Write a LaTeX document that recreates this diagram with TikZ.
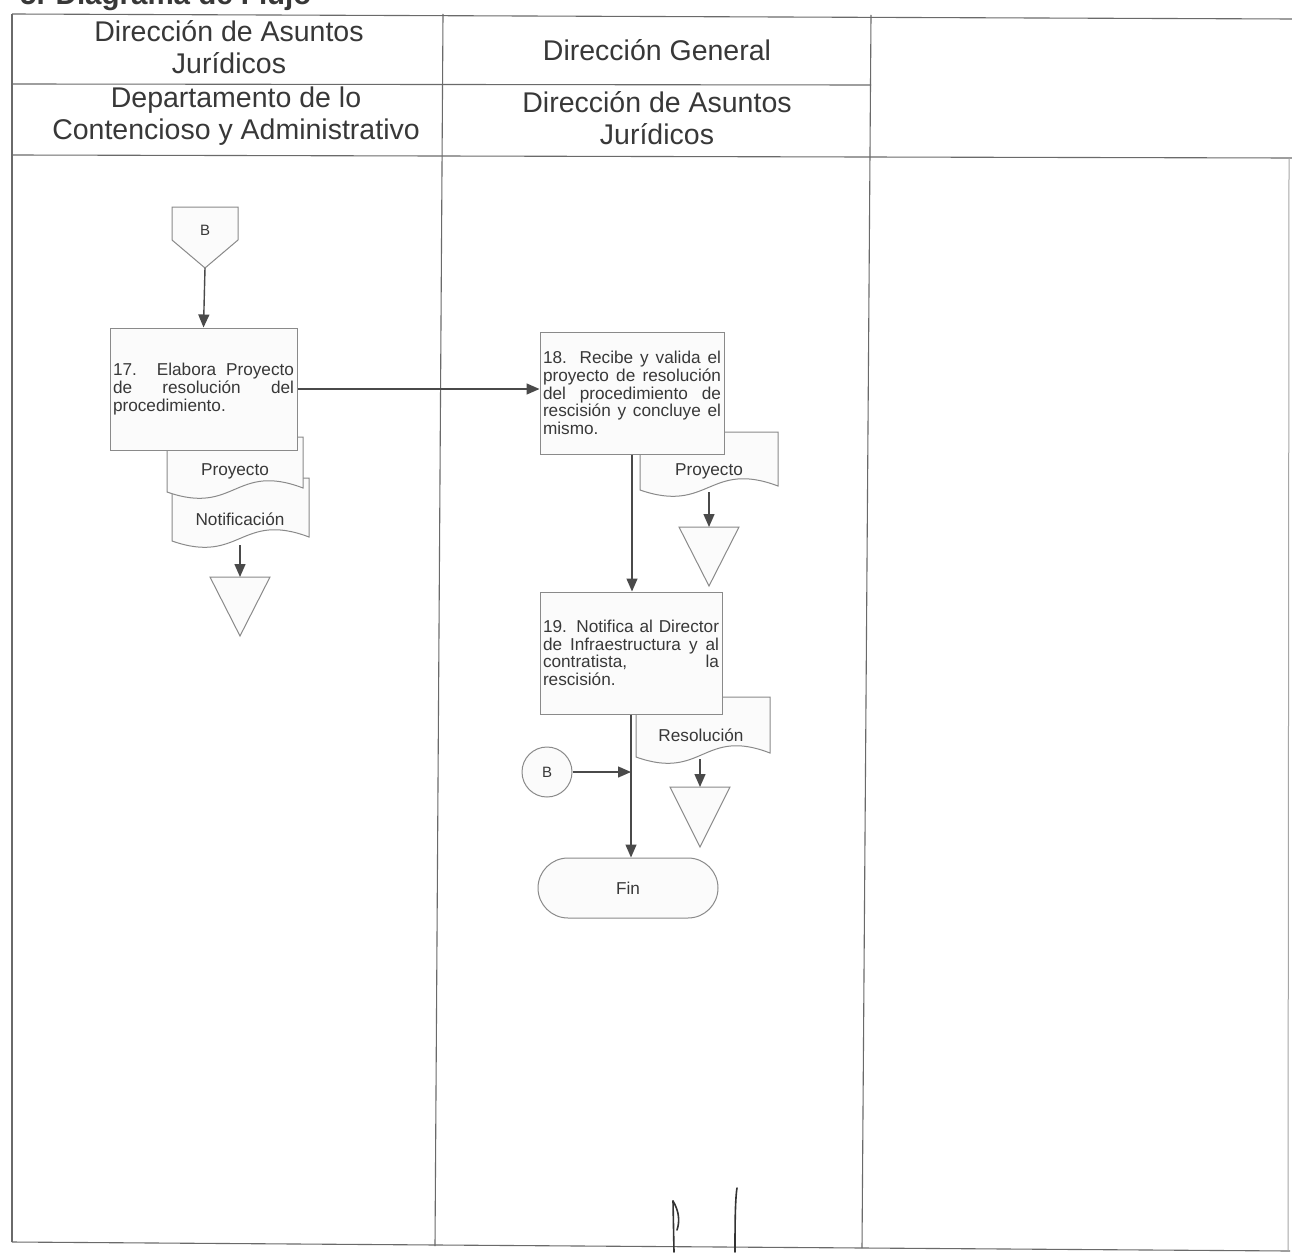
\documentclass[tikz,border=0pt]{standalone}
\usepackage{fontspec}
\setmainfont{Liberation Sans}
\usetikzlibrary{arrows.meta,shapes.misc}
\definecolor{tablec}{HTML}{6A6A6A}
\definecolor{shapec}{HTML}{8A8A8A}
\definecolor{arrc}{HTML}{4A4A4A}
\definecolor{txtc}{HTML}{383838}
\definecolor{boxfill}{HTML}{FBFBFB}
\newcommand\boxfont{\fontsize{17.2}{17.6}\selectfont\hyphenpenalty=10000\tolerance=10000}
\newcommand\headfont{\fontsize{28.5}{32.5}\selectfont}
\tikzset{
  tline/.style={draw=tablec, line width=1.1pt},
  conn/.style={draw=arrc, line width=1.4pt, -{Triangle[length=13pt,width=11pt]}},
  shp/.style={draw=shapec, fill=boxfill, line width=1pt},
  procbox/.style={shp, text=txtc, font=\boxfont, align=justify, inner sep=3pt, minimum height=122pt},
  doctext/.style={text=txtc, font=\boxfont, inner sep=0pt},
  headtext/.style={text=txtc, font=\headfont, align=center, inner sep=0pt},
  sig/.style={draw=black!80, line width=1.6pt, line cap=round}
}
\newcommand\docshape[4]{% x0 x1 ytop yleft
  \path[shp] (#1,#3) -- (#2,#3) -- (#2,#4-4)
    .. controls ({(#1+#2)/2},#4-30) and ({(#1+#2)/2},#4+24) .. (#1,#4) -- cycle;}
\begin{document}
\begin{tikzpicture}[x=1pt,y=-1pt]
\useasboundingbox (0,0) rectangle (1292,1252);
\clip (0,0) rectangle (1292,1252);
\fill[white] (0,0) rectangle (1292,1252);

% title (cut at the top edge, as in the scan)
\node[anchor=base west, font=\fontsize{29.5}{31}\selectfont\bfseries, text=txtc, inner sep=0pt] (title) at (20,4.5) {5. Diagrama de Flujo};

% table
\path[tline] (12,14) -- (1292,19);
\path[tline] (12,84) -- (871,85);
\path[tline] (12,155) -- (1292,158);
\path[tline] (12,1242) -- (1290,1251);
\path[tline] (12,14) -- (12,1242);
\path[tline] (443,14) -- (435,1246);
\path[tline] (871,15) -- (862,1248);
\path[draw=tablec!60, line width=1pt] (1289,158) -- (1288,1251);

\node[headtext] (h1) at (229,47) {Dirección de Asuntos\\Jurídicos};
\node[headtext] (h2) at (657,50) {Dirección General};
\node[headtext] (h3) at (236,116) {Departamento de lo\\Contencioso y Administrativo};
\node[headtext] (h4) at (657,118) {Dirección de Asuntos\\Jurídicos};

% off-page connector B
\path[shp] (172,207) -- (238,207) -- (238,240) -- (205,268) -- (172,240) -- cycle;
\node[text=txtc, font=\fontsize{15}{16}\selectfont, inner sep=0pt] (offB) at (205,230) {B};
\coordinate (offBtip) at (205,268);

% documents of step 17
\docshape{172}{309}{478}{541}
\node[doctext] (dNot) at (240,519) {Notificación};
\docshape{167}{303}{437}{492}
\node[doctext] (dPro1) at (235,471) {Proyecto};
\coordinate (dNotb) at (240,545);

% step 17
\node[procbox, text width=181pt] (s17) at (203.5,389) {17.\ \ Elabora Proyecto\linebreak de resolución del\linebreak procedimiento.};

% triangle 1
\path[shp] (210,577) -- (270,577) -- (240,636) -- cycle;
\coordinate (t1) at (240,577);

% documents of step 18
\docshape{640}{778}{432}{490}
\node[doctext] (dPro2) at (709,471) {Proyecto};
\coordinate (dPro2b) at (709,492);

% step 18
\node[procbox, text width=178pt] (s18) at (632,393) {18. Recibe y valida el\linebreak proyecto de resolución\linebreak del procedimiento de\linebreak rescisión y concluye el\linebreak mismo.};

% triangle 2
\path[shp] (679,527) -- (739,527) -- (709,586) -- cycle;
\coordinate (t2) at (709,527);

% documents of step 19
\docshape{636}{770}{697}{757}
\node[doctext] (dRes) at (701,735) {Resolución};
\coordinate (dResb) at (700,759);

% step 19
\node[procbox, text width=176pt] (s19) at (631,653) {19. Notifica al Director\linebreak de Infraestructura y al\linebreak contratista, la\linebreak rescisión.};

% triangle 3
\path[shp] (670,787) -- (730,787) -- (700,847) -- cycle;
\coordinate (t3) at (700,787);

% connector B and end
\node[shp, circle, minimum size=50pt, inner sep=0pt, text=txtc, font=\fontsize{15}{16}\selectfont] (cB) at (547,772) {B};
\node[shp, rounded rectangle, minimum width=180pt, minimum height=60pt, inner sep=0pt, text=txtc, font=\boxfont] (fin) at (628,888) {Fin};
\coordinate (join) at (s19.south |- cB.east);

% connectors
\draw[conn] (offBtip) -- (s17.north);
\draw[conn] (s17.east) -- (s17.east -| s18.west);
\draw[conn] (dNotb) -- (t1);
\draw[conn] (s18.south) -- (s18.south |- s19.north);
\draw[conn] (dPro2b) -- (t2);
\draw[conn] (dResb) -- (t3);
\draw[conn] (s19.south) -- (s19.south |- fin.north);
\draw[conn] (cB.east) -- (join);

% handwritten marks
\path[sig] (673,1201) -- (674,1252);
\path[sig] (673,1201) .. controls (679,1211) and (680,1221) .. (677,1230);
\path[sig] (737,1188) .. controls (735,1200) and (735,1230) .. (735,1252);
\end{tikzpicture}
\end{document}
